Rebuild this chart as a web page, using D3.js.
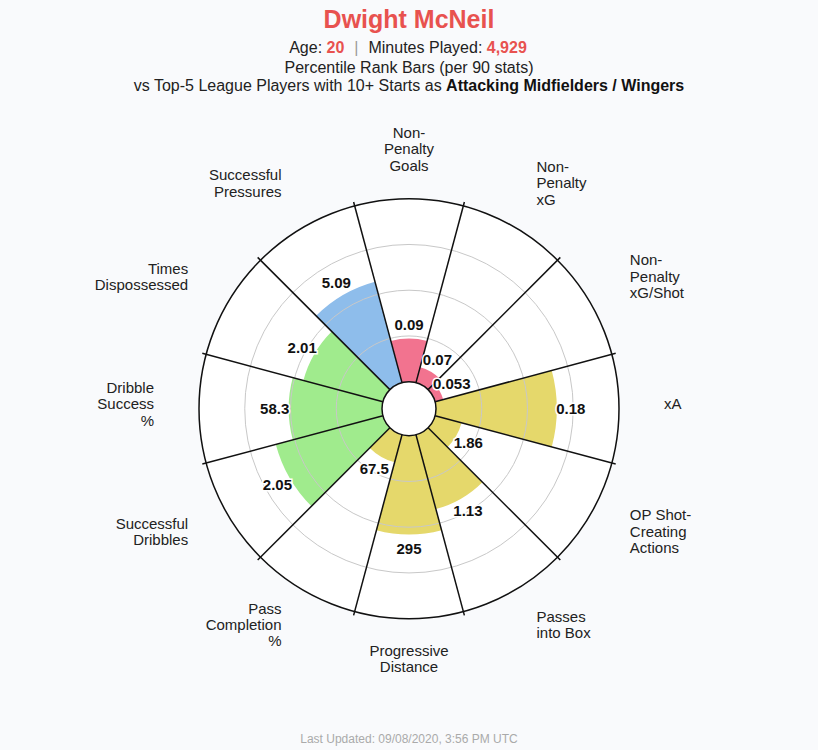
<!DOCTYPE html>
<html>
<head>
<meta charset="utf-8">
<script src="https://cdn.jsdelivr.net/npm/d3@7"></script>
<style>
  html, body { margin: 0; padding: 0; background: #f9fafc; }
  svg { display: block; font-family: Helvetica, Arial, "Liberation Sans", sans-serif; }
</style>
</head>
<body>
<svg id="chart" width="818" height="750"></svg>
<script>
// ---- Data ----
const playerName = "Dwight McNeil";
const playerAge = "20";
const minutesPlayed = "4,929";
const subtitle2 = "Percentile Rank Bars (per 90 stats)";
const subtitle3a = "vs Top-5 League Players with 10+ Starts as ";
const subtitle3b = "Attacking Midfielders / Wingers";
const footer = "Last Updated: 09/08/2020, 3:56 PM UTC";

const categories = [
  ["Non-", "Penalty", "Goals"],
  ["Non-", "Penalty", "xG"],
  ["Non-", "Penalty", "xG/Shot"],
  ["xA"],
  ["OP Shot-", "Creating", "Actions"],
  ["Passes", "into Box"],
  ["Progressive", "Distance"],
  ["Pass", "Completion", "%"],
  ["Successful", "Dribbles"],
  ["Dribble", "Success", "%"],
  ["Times", "Dispossessed"],
  ["Successful", "Pressures"]
];
const percentiles = [23.6, 8.7, 4.6, 66, 15, 42, 54, 15.6, 60.6, 51, 45, 57];
const statValues = ["0.09", "0.07", "0.053", "0.18", "1.86", "1.13", "295", "67.5", "2.05", "58.3", "2.01", "5.09"];
const groups = ["shoot", "shoot", "shoot", "pass", "pass", "pass", "pass", "pass", "poss", "poss", "poss", "def"];
const groupColors = { shoot: "#f2738f", pass: "#e5d86b", poss: "#a0eb8d", def: "#8ebdeb" };
const gridTicks = [25, 50, 75];

// ---- Layout ----
const svg = d3.select("#chart");
const cx = 409, cy = 408.7;
const innerR = 27, outerR = 210;
const n = categories.length;
const step = 2 * Math.PI / n;

const r = d3.scaleLinear().domain([0, 100]).range([innerR, outerR]);
const angle = d3.scaleLinear().domain([0, n]).range([-step / 2, 2 * Math.PI - step / 2]);
const mid = i => angle(i) + step / 2;

const g = svg.append("g").attr("transform", `translate(${cx},${cy})`);

// plot background
g.append("circle").attr("r", outerR).attr("fill", "#ffffff");

// bars
const arc = d3.arc();
g.selectAll("path.bar").data(percentiles).join("path")
  .attr("class", "bar")
  .attr("d", (d, i) => arc({ innerRadius: innerR, outerRadius: r(d), startAngle: angle(i), endAngle: angle(i + 1) }))
  .attr("fill", (d, i) => groupColors[groups[i]]);

// grid circles
g.selectAll("circle.grid").data(gridTicks).join("circle")
  .attr("class", "grid")
  .attr("r", d => r(d))
  .attr("fill", "none")
  .attr("stroke", "#c8c8c8")
  .attr("stroke-width", 1);

// outer circle
g.append("circle").attr("r", outerR).attr("fill", "none").attr("stroke", "#111").attr("stroke-width", 1.5);

// spokes
g.selectAll("line.spoke").data(d3.range(n)).join("line")
  .attr("class", "spoke")
  .attr("x1", i => innerR * Math.sin(angle(i)))
  .attr("y1", i => -innerR * Math.cos(angle(i)))
  .attr("x2", i => (outerR + 4) * Math.sin(angle(i)))
  .attr("y2", i => -(outerR + 4) * Math.cos(angle(i)))
  .attr("stroke", "#111")
  .attr("stroke-width", 1.5);

// inner hole
g.append("circle").attr("r", innerR).attr("fill", "#ffffff").attr("stroke", "#111").attr("stroke-width", 1.5);

// value labels: placed just outside each bar, then relaxed apart if they collide
const labelNodes = statValues.map((d, i) => {
  const rr = r(percentiles[i]) + 14;
  return { text: d, x: rr * Math.sin(mid(i)), y: -rr * Math.cos(mid(i)), w: d.length * 8.2, h: 15 };
});
for (let iter = 0; iter < 60; iter++) {
  for (let a = 0; a < labelNodes.length; a++) {
    for (let b = a + 1; b < labelNodes.length; b++) {
      const A = labelNodes[a], B = labelNodes[b];
      const ox = (A.w + B.w) / 2 + 2 - Math.abs(A.x - B.x);
      const oy = (A.h + B.h) / 2 + 2 - Math.abs(A.y - B.y);
      if (ox > 0 && oy > 0) {
        // push apart along the direction of least overlap
        if (oy < ox) {
          const s = A.y < B.y ? -1 : 1;
          A.y += s * oy / 2; B.y -= s * oy / 2;
        } else {
          const s = A.x < B.x ? -1 : 1;
          A.x += s * ox / 2; B.x -= s * ox / 2;
        }
      }
    }
  }
}
g.selectAll("text.val").data(labelNodes).join("text")
  .attr("class", "val")
  .attr("x", d => d.x)
  .attr("y", d => d.y)
  .attr("text-anchor", "middle")
  .attr("dominant-baseline", "central")
  .attr("font-size", 15)
  .attr("font-weight", "bold")
  .attr("fill", "#111")
  .attr("stroke", "#ffffff")
  .attr("stroke-width", 3)
  .attr("paint-order", "stroke")
  .text(d => d.text);

// category labels
const labelR = 255, labelCy = -4.7, lineH = 16.3;
g.selectAll("text.cat").data(categories).join("text")
  .attr("class", "cat")
  .attr("font-size", 15)
  .attr("fill", "#222")
  .attr("text-anchor", (d, i) => {
    const s = Math.sin(mid(i));
    return Math.abs(s) < 0.01 ? "middle" : (s > 0 ? "start" : "end");
  })
  .each(function (lines, i) {
    const x = labelR * Math.sin(mid(i));
    const y = labelCy - labelR * Math.cos(mid(i));
    const sel = d3.select(this);
    const y0 = y - (lines.length - 1) * lineH / 2;
    lines.forEach((ln, k) => {
      sel.append("tspan").attr("x", x).attr("y", y0 + k * lineH).attr("dy", "0.35em").text(ln);
    });
  });

// titles
svg.append("text").attr("x", 409).attr("y", 27.5).attr("text-anchor", "middle")
  .attr("font-size", 25).attr("font-weight", "bold").attr("fill", "#e8524f").text(playerName);

const t1 = svg.append("text").attr("x", 408).attr("y", 53.3).attr("text-anchor", "middle")
  .attr("font-size", 16).attr("fill", "#222");
t1.append("tspan").text("Age: ");
t1.append("tspan").attr("fill", "#e8524f").attr("font-weight", "bold").text(playerAge);
t1.append("tspan").attr("fill", "#999").attr("dx", 10).text("|");
t1.append("tspan").attr("dx", 10).text("Minutes Played: ");
t1.append("tspan").attr("fill", "#e8524f").attr("font-weight", "bold").text(minutesPlayed);

svg.append("text").attr("x", 409).attr("y", 73.3).attr("text-anchor", "middle")
  .attr("font-size", 16).attr("fill", "#222").text(subtitle2);

const t3 = svg.append("text").attr("x", 409).attr("y", 90.7).attr("text-anchor", "middle")
  .attr("font-size", 16).attr("fill", "#222");
t3.append("tspan").text(subtitle3a);
t3.append("tspan").attr("font-weight", "bold").attr("fill", "#111").text(subtitle3b);

svg.append("text").attr("x", 409).attr("y", 743).attr("text-anchor", "middle")
  .attr("font-size", 12).attr("fill", "#aaaaaa").text(footer);
</script>
</body>
</html>
